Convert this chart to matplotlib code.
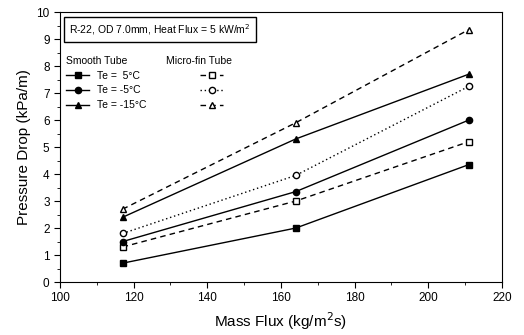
import matplotlib
matplotlib.use("Agg")
import numpy as np
import matplotlib.pyplot as plt
from matplotlib.ticker import MultipleLocator

plt.rcParams['font.family'] = ['Liberation Sans', 'DejaVu Sans']

mass_flux = [117, 164, 211]
temps = ['5', '-5', '-15']
smooth = [[0.7, 2.0, 4.35],
          [1.5, 3.35, 6.0],
          [2.4, 5.3, 7.7]]
microfin = [[1.3, 3.0, 5.2],
            [1.8, 3.95, 7.25],
            [2.7, 5.9, 9.35]]
markers = ['s', 'o', '^']
micro_styles = [(0, (4, 3)), (0, (1, 2)), (0, (4, 3))]

fig = plt.figure(figsize=(5.24, 3.35), dpi=100)
ax = fig.add_axes([0.1145, 0.158, 0.8435, 0.806])

sm_handles = []
mf_handles = []
for i in range(3):
    h, = ax.plot(mass_flux, smooth[i], color='black', lw=1, marker=markers[i],
                 ms=4.5, mfc='black', mec='black')
    sm_handles.append(h)
    h2, = ax.plot(mass_flux, microfin[i], color='black', lw=1, ls=micro_styles[i],
                  marker=markers[i], ms=4.5, mfc='white', mec='black')
    mf_handles.append(h2)

ax.set_xlim(100, 220)
ax.set_ylim(0, 10)
ax.xaxis.set_major_locator(MultipleLocator(20))
ax.xaxis.set_minor_locator(MultipleLocator(10))
ax.yaxis.set_major_locator(MultipleLocator(1))
ax.yaxis.set_minor_locator(MultipleLocator(0.5))
ax.tick_params(which='major', direction='out', length=4, labelsize=8.5)
ax.tick_params(which='minor', direction='out', length=2)
ax.tick_params(top=False, right=False)

ax.set_xlabel('Mass Flux (kg/m$^2$s)', fontsize=11)
ax.set_ylabel('Pressure Drop (kPa/m)', fontsize=11)

ax.text(0.02, 0.962, 'R-22, OD 7.0mm, Heat Flux = 5 kW/m$^2$', transform=ax.transAxes,
        fontsize=7.5, va='top', ha='left',
        bbox=dict(boxstyle='square,pad=0.5', fc='white', ec='black', lw=1))

leg1 = ax.legend(sm_handles, ['Te =  %s\u00b0C' % t if t == '5' else 'Te = %s\u00b0C' % t for t in temps],
                 title='Smooth Tube', loc='upper left', bbox_to_anchor=(0.0, 0.86),
                 frameon=False, fontsize=7.5, title_fontsize=7.5, handlelength=2.2,
                 labelspacing=0.45, borderaxespad=0.2)
leg1._legend_box.align = 'left'
ax.add_artist(leg1)
leg2 = ax.legend(mf_handles, ['', '', ''], title='Micro-fin Tube', loc='upper left',
                 bbox_to_anchor=(0.225, 0.86), frameon=False, fontsize=7.5, title_fontsize=7.5,
                 handlelength=2.2, labelspacing=0.45, borderaxespad=0.2)
leg2._legend_box.align = 'right'

fig.savefig('out.png', dpi=100)
